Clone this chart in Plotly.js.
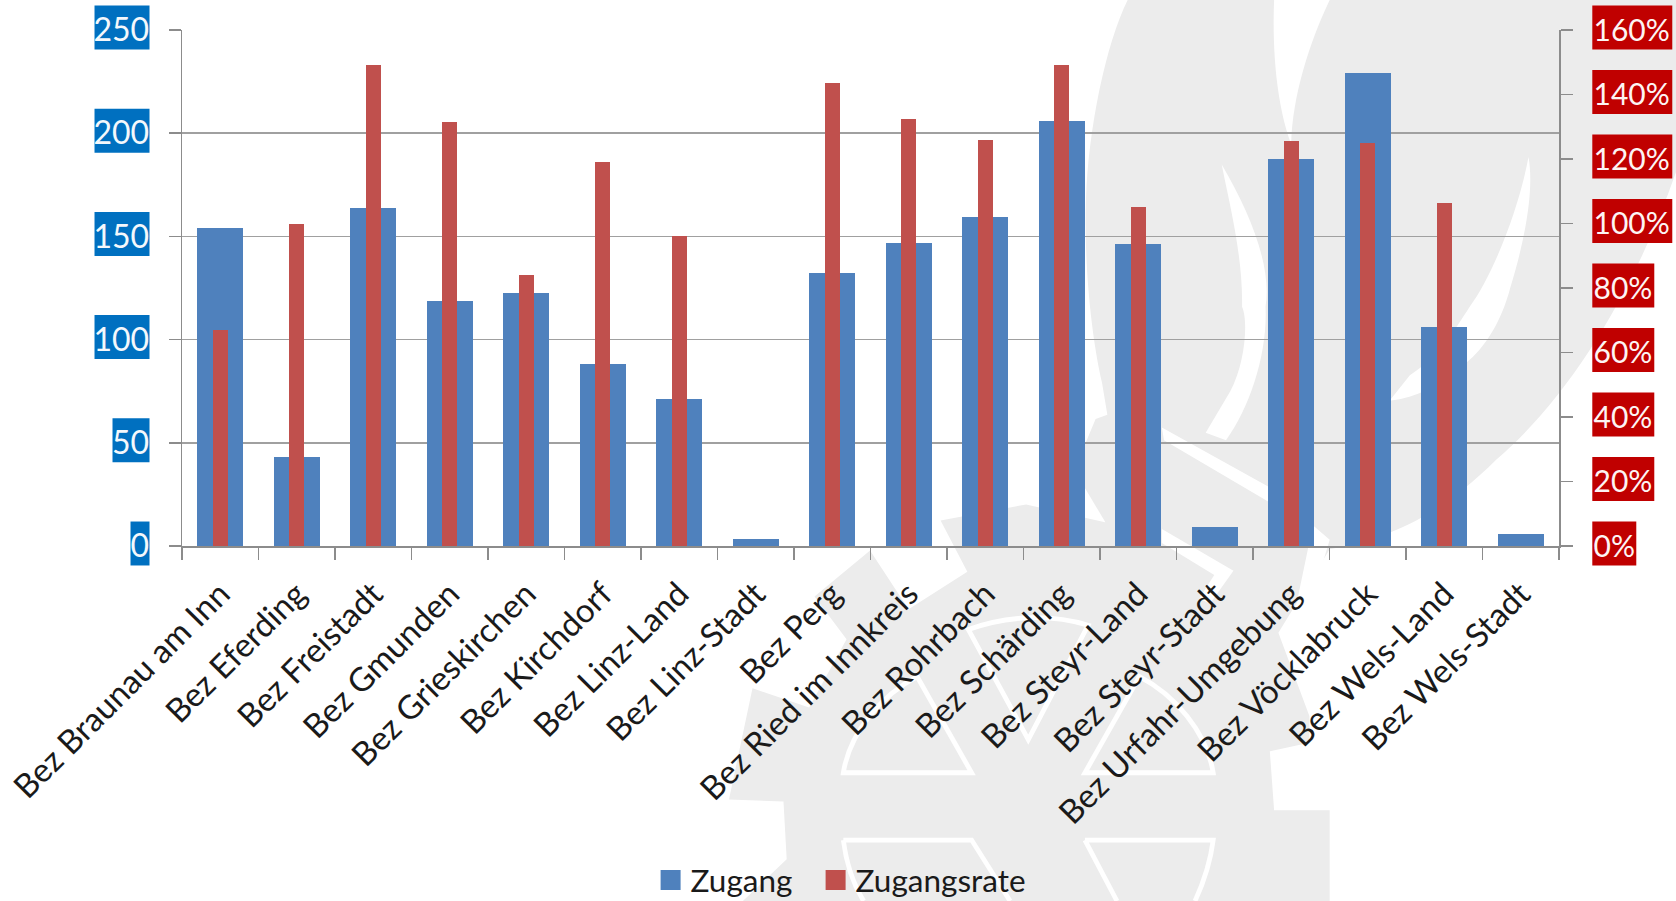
<!DOCTYPE html>
<html><head><meta charset="utf-8">
<script src="https://cdn.plot.ly/plotly-3.0.1.min.js"></script>
<style>html,body{margin:0;padding:0;background:#fff;overflow:hidden}
#wm{position:absolute;left:0;top:0;width:1676px;height:901px}
#chart{position:absolute;left:0;top:0;width:1676px;height:901px}</style></head>
<body>
<svg id="wm" viewBox="0 0 1568 843" preserveAspectRatio="none" xmlns="http://www.w3.org/2000/svg">
<path fill="#ececec" d="M1055,0 C1035,40 1018,120 1016,187 C1014,240 1020,310 1031,358 L1036,388 L1025,392 L1005,440 L1035,490 L1040,490 L960,472 L880,487 L905,535 L850,570 L814,515 L762,558 L792,598 L757,662 L704,644 L682,748 L733,750 L736,804 L695,843 L1244,843 L1244,758 L1192,758 L1188,703 L1225,695 L1225,670 L1196,592 L1244,514 C1290,505 1340,490 1400,430 C1470,370 1530,270 1568,161 L1568,0 Z"/>
<g fill="#fff">
<path d="M1192,0 C1190,50 1195,100 1208,135 C1209,90 1225,40 1244,0 Z"/>
<path d="M1143,154 C1170,200 1190,250 1184,287 C1186,330 1170,380 1147,412 L1128,405 L1151,366 C1165,340 1168,300 1162,287 C1163,240 1150,190 1143,154 Z"/>
<path d="M1430,147 C1436,180 1425,230 1413,269 C1405,300 1390,325 1371,340 C1350,360 1325,372 1300,375 L1319,351 C1345,335 1360,310 1375,287 C1395,260 1420,200 1430,147 Z"/>
<path d="M1087,400 L1186,455 L1244,505 L1226,565 L1214,560 L1224,512 L1186,469 L1089,412 Z"/>
<path d="M1087,495 L1154,534 L1132,565 L1122,560 L1136,538 L1087,508 Z"/>
</g>
<g fill="none" stroke="#fff" stroke-width="4.5">
<path d="M789,723 L909,723 L858,633 C825,650 795,685 789,723 Z"/>
<path d="M1015,723 L1135,723 C1129,685 1099,650 1066,633 Z"/>
<path d="M906,589 C945,575 985,575 1018,585 L962,692 Z"/>
<path d="M789,786 L909,786 L945,843 M789,786 C792,810 800,830 808,843"/>
<path d="M1015,786 L1135,786 C1132,810 1124,830 1118,843 M1015,786 L1045,843"/>
</g>
</svg>
<div id="chart"></div>
<script>
const categories = ["Bez Braunau am Inn","Bez Eferding","Bez Freistadt","Bez Gmunden","Bez Grieskirchen","Bez Kirchdorf","Bez Linz-Land","Bez Linz-Stadt","Bez Perg","Bez Ried im Innkreis","Bez Rohrbach","Bez Schärding","Bez Steyr-Land","Bez Steyr-Stadt","Bez Urfahr-Umgebung","Bez Vöcklabruck","Bez Wels-Land","Bez Wels-Stadt"];
const zugang = [154,43,164,118.5,122.5,88,71,3.6,132.5,147,159.4,206,146.5,9.3,187.4,229,106,6];
const zugangsrate = [67,100,149,131.5,84,119,96,null,143.5,132.5,126,149,105,null,125.5,125,106.5,null];
const leftTicks = [0,50,100,150,200,250];
const rightTicks = [0,20,40,60,80,100,120,140,160];

const W=1676,H=901,L=181.5,R=117.3,T=29.5,B=355;
const PW=W-L-R, PH=H-T-B;
const px=x=>(x-L)/PW, py=y=>(H-B-y)/PH;
const shapes=[];
function box(x0,x1,val,max,color){
  const yc=H-B-(val/max)*PH-2.5;
  shapes.push({type:'rect',xref:'paper',yref:'paper',layer:'below',x0:px(x0),x1:px(x1),y0:py(yc+22),y1:py(yc-22),fillcolor:color,line:{width:0}});
}
leftTicks.forEach(v=>{const n=String(v).length; box(149-(18*n+1),149,v,250,'#0070C0');});
rightTicks.forEach(v=>{const n=String(v).length; box(1592,1592+18*n+26,v,160,'#C00000');});

const axisColor='#8c8c8c', font='Lato, "Open Sans", sans-serif';
Plotly.newPlot('chart',[
 {type:'bar',name:'Zugang',x:categories,y:zugang,width:0.6,marker:{color:'#4F81BD'},yaxis:'y'},
 {type:'bar',name:'Zugangsrate',x:categories,y:zugangsrate,width:0.2,marker:{color:'#C0504D'},yaxis:'y2'}
],{
 width:W,height:H,margin:{l:L,r:R,t:T,b:B,pad:0},
 paper_bgcolor:'rgba(0,0,0,0)',plot_bgcolor:'rgba(0,0,0,0)',
 barmode:'overlay',bargap:0,
 font:{family:font,color:'#1a1a1a'},
 shapes:shapes,
 xaxis:{type:'category',categoryorder:'array',categoryarray:categories,tickangle:-45,tickson:'boundaries',ticks:'outside',ticklen:12,tickwidth:1.5,tickcolor:axisColor,showline:true,linecolor:axisColor,linewidth:1.5,showgrid:false,tickfont:{size:33,family:font,color:'#1a1a1a'},ticklabelstandoff:14,automargin:false},
 yaxis:{range:[0,250],tickvals:leftTicks,ticktext:leftTicks.map(String),ticks:'outside',ticklen:12,tickwidth:1.5,tickcolor:axisColor,showline:true,linecolor:axisColor,linewidth:1.5,gridcolor:'#a0a0a0',gridwidth:1.5,zeroline:false,tickfont:{size:32,family:font,color:'#f4f8fc'},ticklabelstandoff:13,automargin:false},
 yaxis2:{range:[0,160],overlaying:'y',side:'right',tickvals:rightTicks,ticktext:rightTicks.map(v=>v+'%'),ticks:'outside',ticklen:12,tickwidth:1.5,tickcolor:axisColor,showline:true,linecolor:axisColor,linewidth:1.5,showgrid:false,zeroline:false,tickfont:{size:30,family:font,color:'#fdf4f4'},ticklabelstandoff:15,automargin:false},
 legend:{orientation:'h',xref:'container',yref:'container',x:815.6/W,xanchor:'center',y:(H-880)/H,yanchor:'middle',font:{size:31.5,family:font,color:'#1a1a1a'},bgcolor:'rgba(0,0,0,0)',itemwidth:30,entrywidth:120,traceorder:'normal'},
 showlegend:true
},{staticPlot:true,displayModeBar:false}).then(()=>{
 document.querySelectorAll('#chart .legend .legendpoints path').forEach(p=>p.setAttribute('d','M10,10H-10V-10H10Z'));
 document.querySelectorAll('#chart .legend .scrollbox').forEach(s=>s.removeAttribute('clip-path'));
 document.querySelectorAll('#chart .legend').forEach(s=>s.style.overflow='visible');
});
</script>
</body></html>
